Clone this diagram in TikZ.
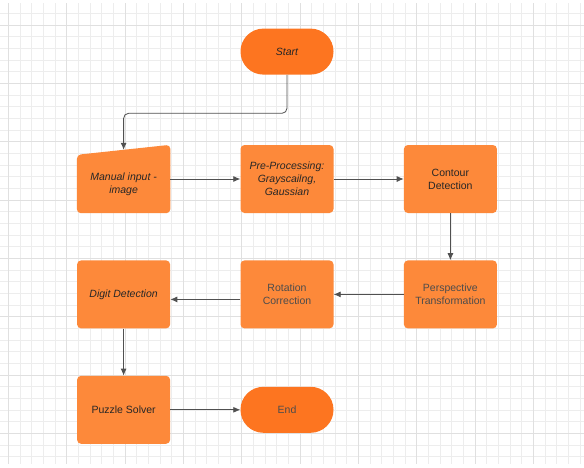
\documentclass[tikz,border=0pt]{standalone}
\usepackage{fontspec}
\setmainfont{Liberation Sans}
\usepackage{xcolor}
\usepackage{tikz}
\usetikzlibrary{shapes,arrows.meta,positioning,backgrounds,calc}

\definecolor{termorange}{RGB}{253,117,32}
\definecolor{procorange}{RGB}{253,137,58}
\definecolor{flowgray}{RGB}{80,80,80}

\begin{document}
\begin{tikzpicture}[x=1pt, y=-1pt,
    proc/.style={rectangle, rounded corners=4pt, fill=procorange, minimum width=93pt, minimum height=68pt, align=center, text=black!85, font=\fontsize{10.5}{13}\selectfont},
    term/.style={rectangle, rounded corners=22.9pt, fill=termorange, minimum width=93pt, minimum height=46pt, align=center, text=black!85, font=\fontsize{10.5}{13}\selectfont},
    manualbox/.style={rectangle, minimum width=93pt, minimum height=58pt, align=center, text=black!85},
    slanted/.style={font=\fontsize{10.5}{13}\selectfont\itshape},
    lighttext/.style={text=black!70},
    minorline/.style={draw=black!7, line width=0.8pt},
    majorline/.style={draw=black!12, line width=0.8pt},
    flow/.style={->, draw=flowgray, line width=0.8pt},
    >={Latex[length=7pt,width=6pt]},
    node distance=47pt and 70pt]

  \useasboundingbox (0,0) rectangle (584,467);

  \begin{scope}[on background layer]
    \fill[white] (0,0) rectangle (584,467);
    \foreach \k in {0,...,49} \draw[minorline] ({8.33+11.667*\k},3) -- ++(0,461);
    \foreach \k in {1,...,39} \draw[minorline] (0,{1.67+11.667*\k}) -- ++(584,0);
    \foreach \k in {0,...,9} \draw[majorline] ({8.33+58.333*\k},3) -- ++(0,461);
    \foreach \k in {0,...,7} \draw[majorline] (0,{25+58.333*\k}) -- ++(584,0);
  \end{scope}

  \node[proc, slanted] (pre) at (287,179) {Pre-Processing:\\Grayscailng,\\Gaussian};
  \node[manualbox, slanted, left=of pre, yshift=-5pt] (manual) {Manual input -\\image};
  \node[proc, right=of pre] (contour) {Contour\\Detection};
  \node[proc, lighttext, below=of contour] (persp) {Perspective\\Transformation};
  \node[proc, lighttext, left=of persp] (rot) {Rotation\\Correction};
  \node[proc, slanted, left=of rot] (digit) {Digit Detection};
  \node[proc, below=of digit] (puzzle) {Puzzle Solver};
  \node[term, lighttext, right=of puzzle] (end) {End};
  \node[term, slanted, above=70pt of pre] (start) {Start};

  \begin{scope}[on background layer]
    \fill[procorange, rounded corners=4pt] (manual.south west) -- (manual.north west)
      -- ([yshift=10pt]manual.north east) -- (manual.south east) -- cycle;
  \end{scope}

  \coordinate (turn) at ($(start.south)!0.55!(pre.north)$);
  \coordinate (rotout) at ([yshift=-5pt]rot.west);

  \draw[flow, rounded corners=5pt] (start.south) -- (turn) -| ([yshift=5pt]manual.north);
  \draw[flow] (manual.east |- pre.west) -- (pre.west);
  \draw[flow] (pre.east) -- (contour.west);
  \draw[flow] (contour.south) -- (persp.north);
  \draw[flow] (persp.west) -- (rot.east);
  \draw[flow] (rotout) -- (rotout -| digit.east);
  \draw[flow] (digit.south) -- (puzzle.north);
  \draw[flow] (puzzle.east) -- (end.west);
\end{tikzpicture}
\end{document}
